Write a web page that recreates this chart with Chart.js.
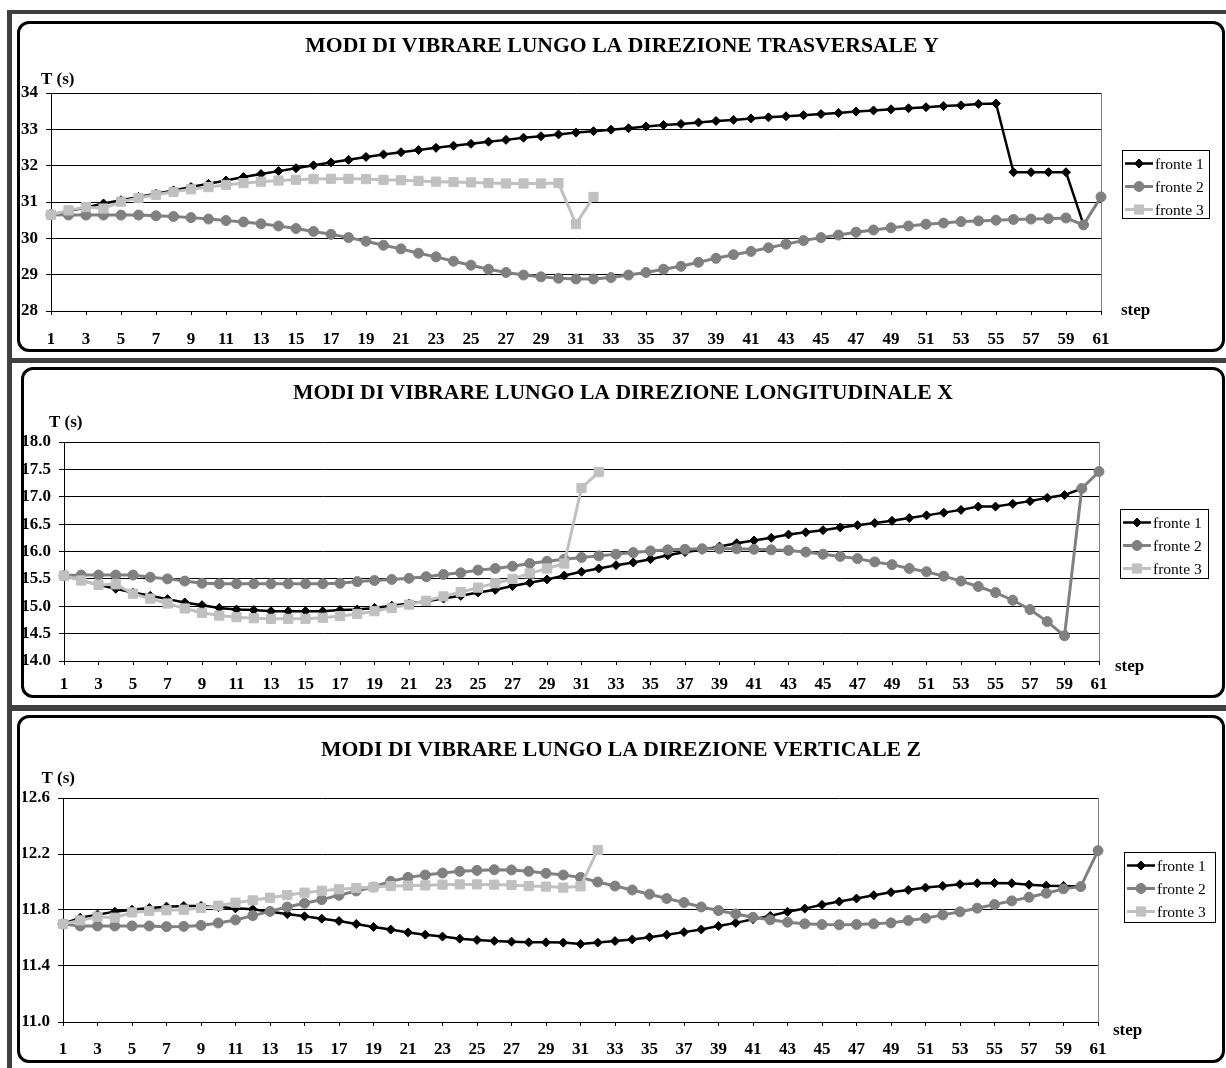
<!DOCTYPE html>
<html>
<head>
<meta charset="utf-8">
<script src="https://cdn.jsdelivr.net/npm/chart.js@4/dist/chart.umd.min.js"></script>
<style>
  body { margin: 0; background: #fff; }
  #page { position: relative; width: 1226px; height: 1068px; overflow: hidden; background: #fff; }
  .bar { position: absolute; background: #404040; }
  .panel { position: absolute; box-sizing: border-box; border: 3px solid #000; border-radius: 12px; }
  canvas { position: absolute; left: 0; }
</style>
</head>
<body>
<div id="page">
  <div class="bar" style="left:7px;top:10px;width:1219px;height:4px"></div>
  <div class="bar" style="left:7px;top:10px;width:5px;height:1058px"></div>
  <div class="bar" style="left:7px;top:358px;width:1219px;height:5px"></div>
  <div class="bar" style="left:7px;top:705px;width:1219px;height:6px"></div>

  <div class="panel" style="left:17px;top:21px;width:1208px;height:331px"></div>
  <div class="panel" style="left:21px;top:367px;width:1204px;height:331px"></div>
  <div class="panel" style="left:17px;top:715px;width:1208px;height:348px"></div>

  <canvas id="chartY" width="1226" height="331" style="top:21px"></canvas>
  <canvas id="chartX" width="1226" height="331" style="top:367px"></canvas>
  <canvas id="chartZ" width="1226" height="348" style="top:715px"></canvas>
</div>

<script>
const steps = [
  1, 2, 3, 4, 5, 6, 7, 8, 9, 10, 11, 12, 13, 14, 15, 16, 17, 18, 19, 20,
  21, 22, 23, 24, 25, 26, 27, 28, 29, 30, 31, 32, 33, 34, 35, 36, 37, 38, 39, 40,
  41, 42, 43, 44, 45, 46, 47, 48, 49, 50, 51, 52, 53, 54, 55, 56, 57, 58, 59, 60, 61
];
const xTickSteps = [1, 3, 5, 7, 9, 11, 13, 15, 17, 19, 21, 23, 25, 27, 29, 31,
  33, 35, 37, 39, 41, 43, 45, 47, 49, 51, 53, 55, 57, 59, 61];

const seriesNames = ["fronte 1", "fronte 2", "fronte 3"];

// direzione trasversale Y
const yTicksY = [28, 29, 30, 31, 32, 33, 34];
const fronte1Y = [
  30.65, 30.75, 30.85, 30.96, 31.05, 31.14, 31.23, 31.32, 31.41, 31.50,
  31.59, 31.69, 31.77, 31.85, 31.93, 32.01, 32.09, 32.16, 32.24, 32.31,
  32.37, 32.43, 32.49, 32.55, 32.60, 32.66, 32.71, 32.77, 32.81, 32.86,
  32.91, 32.95, 32.99, 33.03, 33.08, 33.12, 33.15, 33.19, 33.23, 33.26,
  33.30, 33.33, 33.36, 33.39, 33.42, 33.45, 33.49, 33.52, 33.55, 33.58,
  33.61, 33.64, 33.66, 33.70, 33.71, 31.82, 31.82, 31.82, 31.82, 30.38,
  null
];
const fronte2Y = [
  30.65, 30.64, 30.64, 30.64, 30.64, 30.64, 30.62, 30.60, 30.57, 30.53,
  30.49, 30.45, 30.40, 30.34, 30.27, 30.19, 30.11, 30.02, 29.92, 29.81,
  29.71, 29.59, 29.49, 29.37, 29.26, 29.15, 29.06, 28.99, 28.94, 28.90,
  28.88, 28.88, 28.92, 28.99, 29.06, 29.15, 29.23, 29.34, 29.45, 29.55,
  29.64, 29.74, 29.84, 29.94, 30.02, 30.09, 30.17, 30.23, 30.29, 30.34,
  30.39, 30.42, 30.46, 30.48, 30.50, 30.52, 30.53, 30.54, 30.56, 30.37,
  31.14
];
const fronte3Y = [
  30.65, 30.77, 30.86, 30.82, 31.01, 31.11, 31.20, 31.28, 31.35, 31.41,
  31.47, 31.52, 31.56, 31.59, 31.61, 31.63, 31.64, 31.64, 31.63, 31.61,
  31.60, 31.58, 31.56, 31.55, 31.54, 31.52, 31.51, 31.51, 31.51, 31.52,
  30.39, 31.14
];

// direzione longitudinale X
const yTicksX = [14.0, 14.5, 15.0, 15.5, 16.0, 16.5, 17.0, 17.5, 18.0];
const fronte1X = [
  15.56, 15.47, 15.39, 15.32, 15.25, 15.19, 15.13, 15.07, 15.02, 14.97,
  14.94, 14.93, 14.91, 14.91, 14.91, 14.91, 14.93, 14.94, 14.97, 15.01,
  15.05, 15.09, 15.14, 15.19, 15.25, 15.30, 15.37, 15.43, 15.49, 15.56,
  15.63, 15.69, 15.75, 15.80, 15.86, 15.93, 15.99, 16.03, 16.09, 16.15,
  16.20, 16.25, 16.31, 16.35, 16.39, 16.44, 16.48, 16.52, 16.56, 16.61,
  16.66, 16.71, 16.76, 16.82, 16.82, 16.87, 16.92, 16.98, 17.03, 17.15,
  null
];
const fronte2X = [
  15.56, 15.57, 15.57, 15.57, 15.57, 15.53, 15.50, 15.46, 15.42, 15.41,
  15.41, 15.41, 15.41, 15.41, 15.41, 15.41, 15.42, 15.45, 15.47, 15.49,
  15.51, 15.54, 15.58, 15.61, 15.66, 15.69, 15.73, 15.78, 15.82, 15.86,
  15.89, 15.92, 15.95, 15.98, 16.01, 16.03, 16.04, 16.05, 16.05, 16.05,
  16.04, 16.03, 16.02, 15.99, 15.95, 15.91, 15.87, 15.81, 15.76, 15.69,
  15.63, 15.55, 15.46, 15.36, 15.25, 15.11, 14.94, 14.72, 14.46, 17.15,
  17.46
];
const fronte3X = [
  15.56, 15.47, 15.39, 15.40, 15.23, 15.14, 15.05, 14.96, 14.88, 14.83,
  14.80, 14.78, 14.77, 14.77, 14.77, 14.79, 14.82, 14.86, 14.91, 14.97,
  15.03, 15.10, 15.18, 15.26, 15.34, 15.42, 15.50, 15.60, 15.69, 15.78,
  17.16, 17.45
];

// direzione verticale Z
const yTicksZ = [11.0, 11.4, 11.8, 12.2, 12.6];
const fronte1Z = [
  11.700, 11.745, 11.767, 11.788, 11.802, 11.814, 11.824, 11.829, 11.829, 11.821,
  11.812, 11.805, 11.788, 11.771, 11.755, 11.738, 11.721, 11.700, 11.679, 11.660,
  11.640, 11.624, 11.610, 11.595, 11.586, 11.579, 11.574, 11.569, 11.569, 11.567,
  11.557, 11.567, 11.578, 11.590, 11.606, 11.623, 11.642, 11.661, 11.685, 11.708,
  11.734, 11.758, 11.787, 11.810, 11.837, 11.860, 11.882, 11.906, 11.927, 11.943,
  11.960, 11.972, 11.984, 11.991, 11.993, 11.991, 11.981, 11.974, 11.972, 11.967,
  null
];
const fronte2Z = [
  11.700, 11.686, 11.686, 11.686, 11.686, 11.686, 11.681, 11.683, 11.690, 11.707,
  11.729, 11.760, 11.790, 11.821, 11.848, 11.874, 11.905, 11.936, 11.964, 12.005,
  12.033, 12.050, 12.064, 12.076, 12.083, 12.088, 12.086, 12.076, 12.062, 12.050,
  12.033, 12.000, 11.971, 11.943, 11.913, 11.882, 11.853, 11.822, 11.796, 11.772,
  11.748, 11.730, 11.713, 11.701, 11.696, 11.694, 11.696, 11.701, 11.708, 11.725,
  11.741, 11.765, 11.787, 11.813, 11.839, 11.865, 11.891, 11.920, 11.951, 11.967,
  12.224
];
const fronte3Z = [
  11.700, 11.726, 11.752, 11.745, 11.783, 11.793, 11.798, 11.802, 11.814, 11.831,
  11.852, 11.869, 11.888, 11.907, 11.924, 11.938, 11.948, 11.957, 11.964, 11.971,
  11.974, 11.976, 11.981, 11.983, 11.983, 11.981, 11.979, 11.971, 11.967, 11.960,
  11.969, 12.229
];

const SERIF = "'Liberation Serif', 'Times New Roman', serif";

const seriesStyles = [
  { color: "#000000", width: 2.5, point: "rectRot", radius: 4.5 },
  { color: "#808080", width: 3, point: "circle", radius: 5 },
  { color: "#c0c0c0", width: 3, point: "rect", radius: 6.5 }
];

// title, axis captions, legend box and the right edge of the plot area
const extras = {
  id: "extras",
  afterDraw(chart, args, o) {
    const ctx = chart.ctx;
    const ca = chart.chartArea;
    ctx.save();
    ctx.strokeStyle = "#808080";
    ctx.lineWidth = 1;
    ctx.beginPath();
    ctx.moveTo(ca.right + 0.5, ca.top);
    ctx.lineTo(ca.right + 0.5, ca.bottom);
    ctx.stroke();

    ctx.fillStyle = "#000";
    ctx.textBaseline = "middle";
    ctx.textAlign = "center";
    ctx.font = "bold 21.7px " + SERIF;
    ctx.fillText(o.title, o.titleX, o.titleY);

    ctx.textAlign = "left";
    ctx.font = "bold 17px " + SERIF;
    ctx.fillText("T (s)", o.unitX, o.unitY);
    ctx.fillText("step", o.stepX, o.stepY);

    const lg = o.legend;
    ctx.strokeStyle = "#000";
    ctx.lineWidth = 1;
    ctx.strokeRect(lg.x + 0.5, lg.y + 0.5, lg.w, lg.h);
    ctx.font = "15.5px " + SERIF;
    chart.data.datasets.forEach((ds, i) => {
      const st = seriesStyles[i];
      const y = lg.y + 13.5 + 23 * i;
      ctx.strokeStyle = st.color;
      ctx.fillStyle = st.color;
      ctx.lineWidth = st.width;
      ctx.beginPath();
      ctx.moveTo(lg.x + 3, y);
      ctx.lineTo(lg.x + 31, y);
      ctx.stroke();
      ctx.lineWidth = 1;
      Chart.helpers.drawPoint(ctx, { pointStyle: st.point, radius: st.radius, rotation: 0, borderWidth: 1 }, lg.x + 17, y);
      ctx.fillStyle = "#000";
      ctx.fillText(ds.label, lg.x + 33, y + 1);
    });
    ctx.restore();
  }
};

function buildChart(id, cfg) {
  const ctx = document.getElementById(id).getContext("2d");
  const tickFont = { family: SERIF, size: 17, weight: "bold" };

  return new Chart(ctx, {
    type: "line",
    data: {
      labels: steps,
      datasets: cfg.series.map((vals, i) => ({
        label: seriesNames[i],
        data: vals,
        borderColor: seriesStyles[i].color,
        backgroundColor: seriesStyles[i].color,
        borderWidth: seriesStyles[i].width,
        pointStyle: seriesStyles[i].point,
        pointRadius: seriesStyles[i].radius,
        pointBorderWidth: 1,
        pointBackgroundColor: seriesStyles[i].color,
        pointBorderColor: seriesStyles[i].color,
        tension: 0,
        clip: false,
        order: 3 - i
      }))
    },
    options: {
      responsive: false,
      animation: false,
      devicePixelRatio: 1,
      layout: { padding: cfg.padding },
      plugins: {
        legend: { display: false },
        tooltip: { enabled: false },
        extras: cfg.extras
      },
      scales: {
        x: {
          type: "linear",
          min: 1,
          max: 61,
          afterBuildTicks: (s) => { s.ticks = xTickSteps.map((v) => ({ value: v })); },
          afterFit: (s) => { s.height = cfg.xHeight; },
          ticks: {
            autoSkip: false,
            maxRotation: 0,
            padding: cfg.xPad,
            color: "#000",
            font: tickFont,
            callback: (v) => String(v)
          },
          grid: { drawOnChartArea: false, tickLength: 4, color: "#000" },
          border: { color: "#000", width: 1 }
        },
        y: {
          type: "linear",
          min: cfg.yTicks[0],
          max: cfg.yTicks[cfg.yTicks.length - 1],
          afterBuildTicks: (s) => { s.ticks = cfg.yTicks.map((v) => ({ value: v })); },
          afterFit: (s) => { s.width = 40; },
          ticks: {
            padding: 8,
            color: "#000",
            font: tickFont,
            callback: (v) => v.toFixed(cfg.decimals)
          },
          grid: { color: "#000", lineWidth: 1, tickLength: 5 },
          border: { color: "#000", width: 1 }
        }
      }
    },
    plugins: [extras]
  });
}

buildChart("chartY", {
  series: [fronte1Y, fronte2Y, fronte3Y],
  yTicks: yTicksY,
  decimals: 0,
  padding: { left: 11, right: 125, top: 72, bottom: 0 },
  xHeight: 41,
  xPad: 14,
  extras: {
    title: "MODI DI VIBRARE LUNGO LA DIREZIONE TRASVERSALE Y",
    titleX: 622, titleY: 25,
    unitX: 41, unitY: 59,
    stepX: 1121, stepY: 290,
    legend: { x: 1122, y: 129, w: 87, h: 68 }
  }
});

buildChart("chartX", {
  series: [fronte1X, fronte2X, fronte3X],
  yTicks: yTicksX,
  decimals: 1,
  padding: { left: 24, right: 127, top: 75, bottom: 0 },
  xHeight: 37,
  xPad: 9,
  extras: {
    title: "MODI DI VIBRARE LUNGO LA DIREZIONE LONGITUDINALE X",
    titleX: 623, titleY: 26.5,
    unitX: 49, unitY: 55.5,
    stepX: 1115, stepY: 300,
    legend: { x: 1120, y: 142, w: 88, h: 69 }
  }
});

buildChart("chartZ", {
  series: [fronte1Z, fronte2Z, fronte3Z],
  yTicks: yTicksZ,
  decimals: 1,
  padding: { left: 23, right: 128, top: 83, bottom: 0 },
  xHeight: 41,
  xPad: 13,
  extras: {
    title: "MODI DI VIBRARE LUNGO LA DIREZIONE VERTICALE Z",
    titleX: 621, titleY: 35,
    unitX: 41.5, unitY: 64,
    stepX: 1113, stepY: 316,
    legend: { x: 1124, y: 137, w: 91, h: 70 }
  }
});
</script>
</body>
</html>
